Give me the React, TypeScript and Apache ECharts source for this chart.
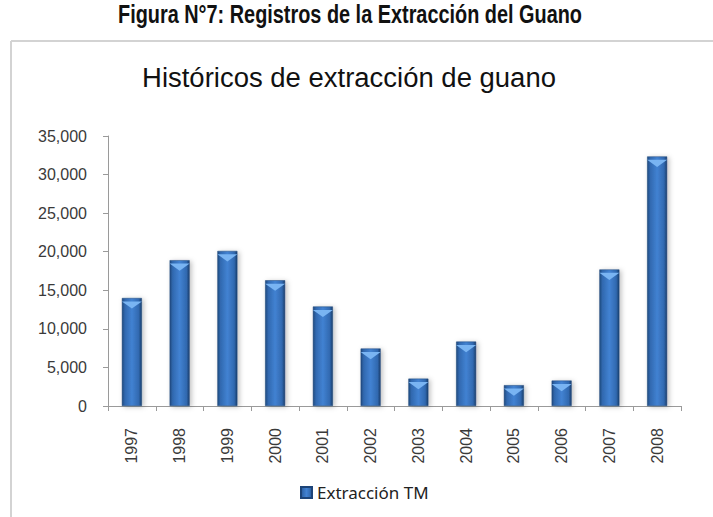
import React, { useEffect, useRef } from "react";
import * as echarts from "echarts";

const pageTitle = "Figura N°7: Registros de la Extracción del Guano";
const chartTitle = "Históricos de extracción de guano";
const seriesName = "Extracción TM";
const years = ["1997", "1998", "1999", "2000", "2001", "2002", "2003", "2004", "2005", "2006", "2007", "2008"];
const extraction = [14000, 18900, 20100, 16300, 12900, 7450, 3550, 8350, 2700, 3300, 17700, 32350];
const yTicks = { min: 0, max: 35000, interval: 5000 };

function measure(text: string, font: string): number {
  const c = document.createElement("canvas");
  const ctx = c.getContext("2d");
  if (!ctx) return 0;
  ctx.font = font;
  return ctx.measureText(text).width;
}

export default function App() {
  const ref = useRef<HTMLDivElement>(null);
  useEffect(() => {
    if (!ref.current) return;
    const chart = echarts.init(ref.current, undefined, { renderer: "svg" });
    const barGrad = new echarts.graphic.LinearGradient(0, 0, 1, 0, [
      { offset: 0, color: "#214b80" },
      { offset: 0.15, color: "#3169b0" },
      { offset: 0.5, color: "#4282d2" },
      { offset: 0.85, color: "#3169b0" },
      { offset: 1, color: "#1a3f6d" },
    ]);
    const pageFont = "bold 25px 'Liberation Sans'";
    const titleFont = "27px 'Liberation Sans'";
    const pw = measure(pageTitle, pageFont) || 600;
    const tw = measure(chartTitle, titleFont) || 420;
    chart.setOption({
      animation: false,
      backgroundColor: "#ffffff",
      graphic: [
        {
          type: "line",
          silent: true,
          shape: { x1: 11, y1: 41, x2: 713, y2: 41 },
          style: { stroke: "#d3d3d3", lineWidth: 2 },
        },
        {
          type: "line",
          silent: true,
          shape: { x1: 11, y1: 41, x2: 11, y2: 517 },
          style: { stroke: "#d3d3d3", lineWidth: 2 },
        },
        {
          type: "text",
          silent: true,
          x: 350,
          y: 15,
          scaleX: 464 / pw,
          style: {
            text: pageTitle,
            font: pageFont,
            fill: "#111",
            align: "center",
            verticalAlign: "middle",
          },
        },
        {
          type: "text",
          silent: true,
          x: 349,
          y: 78,
          scaleX: 414 / tw,
          style: {
            text: chartTitle,
            font: titleFont,
            fill: "#111",
            align: "center",
            verticalAlign: "middle",
          },
        },
      ],
      legend: {
        data: [seriesName],
        left: 295,
        top: 479,
        icon: "rect",
        itemWidth: 11,
        itemHeight: 11,
        textStyle: { fontFamily: "Noto Sans", fontSize: 17, color: "#222", padding: [0, 0, 0, 0] },
      },
      grid: { left: 108, right: 32, top: 136, bottom: 111, containLabel: false },
      xAxis: {
        type: "category",
        data: years,
        boundaryGap: true,
        axisLine: { lineStyle: { color: "#9a9a9a", width: 1 } },
        axisTick: { show: true, length: 5, lineStyle: { color: "#9a9a9a" } },
        axisLabel: {
          rotate: 90,
          margin: 22,
          fontFamily: "Liberation Sans",
          fontSize: 16,
          color: "#3a3a3a",
        },
      },
      yAxis: {
        type: "value",
        min: yTicks.min,
        max: yTicks.max,
        interval: yTicks.interval,
        splitLine: { show: false },
        axisLine: { show: true, lineStyle: { color: "#9a9a9a", width: 1 } },
        axisTick: { show: true, length: 5, lineStyle: { color: "#9a9a9a" } },
        axisLabel: {
          margin: 21,
          fontFamily: "Liberation Sans",
          fontSize: 16,
          color: "#3a3a3a",
          formatter: (v: number) => v.toLocaleString("en-US"),
        },
      },
      series: [
        {
          name: seriesName,
          type: "bar",
          data: extraction,
          barWidth: 20,
          itemStyle: {
            color: barGrad,
            borderColor: "#1d4478",
            borderWidth: 0.5,
            shadowBlur: 5,
            shadowColor: "rgba(0,0,0,0.25)",
            shadowOffsetX: 2,
            shadowOffsetY: 1,
          },
        },
        {
          name: "bevel",
          type: "pictorialBar",
          data: extraction,
          symbol: "path://M0,0 L20,0 L10,7 Z",
          symbolSize: [20, 7],
          symbolPosition: "end",
          symbolOffset: [0, "50%"],
          barGap: "-100%",
          itemStyle: { color: "#79b4f2" },
          z: 3,
          silent: true,
        },
      ],
    });
    return () => chart.dispose();
  }, []);
  return (
    <div
      ref={ref}
      style={{ position: "fixed", left: 0, top: 0, width: 713, height: 517 }}
    />
  );
}
